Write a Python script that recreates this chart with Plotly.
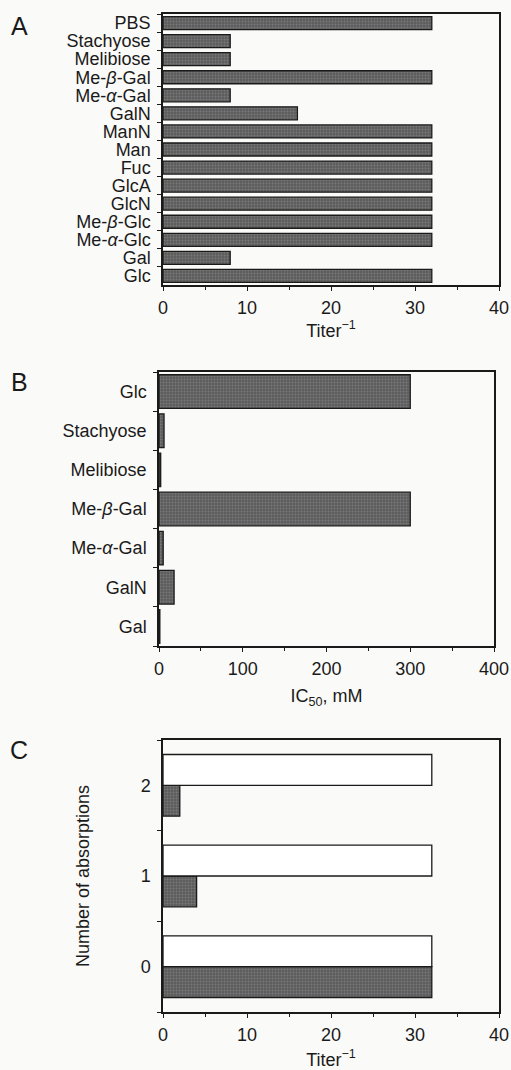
import plotly.graph_objects as go

# ---------------- data ----------------
# Panel A (bottom to top)
a_labels = ["Glc", "Gal", "Me-<i>α</i>-Glc", "Me-<i>β</i>-Glc", "GlcN", "GlcA", "Fuc",
            "Man", "ManN", "GalN", "Me-<i>α</i>-Gal", "Me-<i>β</i>-Gal", "Melibiose",
            "Stachyose", "PBS"]
a_titer = [32, 8, 32, 32, 32, 32, 32, 32, 32, 16, 8, 32, 8, 8, 32]

# Panel B (bottom to top)
b_labels = ["Gal", "GalN", "Me-<i>α</i>-Gal", "Me-<i>β</i>-Gal", "Melibiose", "Stachyose", "Glc"]
b_ic50 = [1, 18, 5, 300, 2, 6, 300]

# Panel C
c_labels = ["0", "1", "2"]
c_grey = [32, 4, 2]
c_open = [32, 32, 32]

a_xticks = [0, 10, 20, 30, 40]
b_xticks = [0, 100, 200, 300, 400]

# ---------------- style ----------------
W, H = 511, 1070
FONT = "Liberation Sans, Arial, Helvetica, sans-serif"
INK = "#1a1a1a"
BAR = "#5c5c5c"
BG = "#fafaf9"
FS = 18


def dx(px0, px1):
    return [px0 / W, px1 / W]


def dy(top, bottom):
    return [1 - bottom / H, 1 - top / H]


bar_pattern = dict(shape=".", bgcolor=BAR, fgcolor="#939393", size=3, solidity=0.35)

fig = go.Figure()

fig.add_trace(go.Bar(
    x=a_titer, y=a_labels, orientation="h", xaxis="x", yaxis="y",
    width=0.72, marker=dict(color=BAR, pattern=bar_pattern, line=dict(color=INK, width=1.3)),
    showlegend=False,
))
fig.add_trace(go.Bar(
    x=b_ic50, y=b_labels, orientation="h", xaxis="x2", yaxis="y2",
    width=0.86, marker=dict(color=BAR, pattern=bar_pattern, line=dict(color=INK, width=1.3)),
    showlegend=False,
))
fig.add_trace(go.Bar(
    x=c_grey, y=c_labels, orientation="h", xaxis="x3", yaxis="y3",
    marker=dict(color=BAR, pattern=bar_pattern, line=dict(color=INK, width=1.3)),
    showlegend=False, offsetgroup="g",
))
fig.add_trace(go.Bar(
    x=c_open, y=c_labels, orientation="h", xaxis="x3", yaxis="y3",
    marker=dict(color="#ffffff", line=dict(color=INK, width=1.3)),
    showlegend=False, offsetgroup="o",
))

tickfont = dict(family=FONT, size=FS, color=INK)
common_x = dict(
    showline=True, linecolor=INK, linewidth=1.5, mirror=True, automargin=False,
    ticks="outside", ticklen=4, tickwidth=1.3, tickcolor=INK, ticklabelstandoff=2,
    showgrid=False, zeroline=False, tickfont=tickfont,
)
common_y = dict(
    type="category", showline=True, linecolor=INK, linewidth=1.5, mirror=True,
    automargin=False,
    tickmode="linear", tick0=0, dtick=1,
    ticks="outside", ticklen=4, tickwidth=1.3, tickcolor=INK, tickson="boundaries",
    ticklabelstandoff=7,
    showgrid=False, zeroline=False, tickfont=tickfont,
)

fig.update_layout(
    width=W, height=H, autosize=False,
    margin=dict(l=0, r=0, t=0, b=0, pad=0),
    paper_bgcolor=BG, plot_bgcolor=BG,
    font=dict(family=FONT, size=FS, color=INK),
    barmode="group", bargap=0.32,
    xaxis=dict(domain=dx(163, 499), anchor="y", range=[0, 40], tickvals=a_xticks,
               minor=dict(dtick=5, ticks="outside", ticklen=3, tickcolor=INK),
               title=dict(text="Titer<sup>−1</sup>", standoff=3, font=dict(size=FS)),
               **common_x),
    yaxis=dict(domain=dy(14, 285), anchor="x", range=[-0.5, 14.5], **common_y),
    xaxis2=dict(domain=dx(159, 494), anchor="y2", range=[0, 400], tickvals=b_xticks,
                minor=dict(dtick=50, ticks="outside", ticklen=3, tickcolor=INK),
                title=dict(text="IC<sub>50</sub>, mM", standoff=11, font=dict(size=FS)),
                **common_x),
    yaxis2=dict(domain=dy(372, 646), anchor="x2", range=[-0.5, 6.5], **common_y),
    xaxis3=dict(domain=dx(163, 499), anchor="y3", range=[0, 40], tickvals=a_xticks,
                minor=dict(dtick=5, ticks="outside", ticklen=3, tickcolor=INK),
                title=dict(text="Titer<sup>−1</sup>", standoff=17, font=dict(size=FS)),
                **common_x),
    yaxis3=dict(domain=dy(740, 1012), anchor="x3", range=[-0.5, 2.5],
                title=dict(text="Number of absorptions", standoff=46, font=dict(size=FS)),
                **common_y),
)

for txt, ypx in [("A", 26), ("B", 382), ("C", 750)]:
    fig.add_annotation(text=txt, x=19 / W, y=1 - ypx / H, xref="paper", yref="paper",
                       showarrow=False, xanchor="center", yanchor="middle",
                       font=dict(family=FONT, size=25, color=INK))

fig.write_html("out.html",
               config={"displayModeBar": False, "responsive": False},
               post_script="document.body.style.margin='0px';document.body.style.overflow='hidden';document.body.style.background='%s';" % BG)
